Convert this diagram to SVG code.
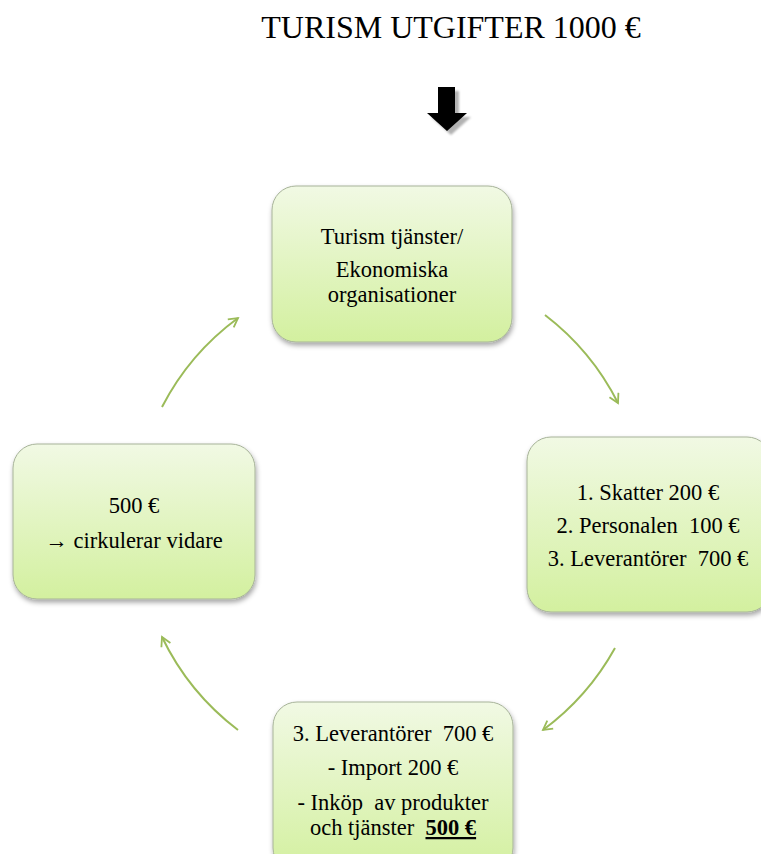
<svg xmlns="http://www.w3.org/2000/svg" width="761" height="854" viewBox="0 0 761 854">
<defs>
<linearGradient id="g" x1="0" y1="0" x2="0" y2="1">
<stop offset="0" stop-color="#f1f9e4"/>
<stop offset="1" stop-color="#d3f09f"/>
</linearGradient>
<filter id="sh" x="-10%" y="-10%" width="125%" height="130%">
<feDropShadow dx="1" dy="3" stdDeviation="2.5" flood-color="#000" flood-opacity="0.35"/>
</filter>
<filter id="ash" x="-30%" y="-30%" width="160%" height="160%">
<feDropShadow dx="4" dy="4" stdDeviation="1.2" flood-color="#000" flood-opacity="0.3"/>
</filter>
<marker id="ah" viewBox="0 0 12 12" refX="10" refY="6" markerWidth="12" markerHeight="12" markerUnits="userSpaceOnUse" orient="auto">
<path d="M1,1 L10,6 L1,11" fill="none" stroke="#9bbb59" stroke-width="1.8"/>
</marker>
<style>
.box{fill:url(#g);stroke:#a7b399;stroke-width:1;filter:url(#sh)}
.t{font-family:"Liberation Serif","Times New Roman",serif;font-size:22.5px;fill:#000;text-anchor:middle;white-space:pre}
.c{fill:none;stroke:#9bbb59;stroke-width:2;marker-end:url(#ah)}
</style>
</defs>
<rect width="761" height="854" fill="#fff"/>
<text x="451" y="38" font-family="Liberation Serif, Times New Roman, serif" font-size="32" text-anchor="middle">TURISM UTGIFTER 1000 €</text>
<g id="down-arrow" filter="url(#ash)">
<polygon points="438,87 455,87 455,113 467,113 447,131 427,113 438,113" fill="#000"/>
</g>
<g id="connectors">
<path class="c" d="M545,315 A256,256 0 0 1 618,403"/>
<path class="c" d="M615,648 A256,256 0 0 1 543,730"/>
<path class="c" d="M238,730 A256,256 0 0 1 162,637"/>
<path class="c" d="M162,407 A256,256 0 0 1 238,318"/>
</g>
<g id="n-top">
<rect class="box" x="272" y="186" width="240" height="156" rx="24"/>
<text class="t" x="392" y="244">Turism tjänster/</text>
<text class="t" x="392" y="277">Ekonomiska</text>
<text class="t" x="392" y="302">organisationer</text>
</g>
<g id="n-right">
<rect class="box" x="527" y="437" width="244" height="175" rx="24"/>
<text class="t" x="648" y="500">1. Skatter 200 €</text>
<text class="t" x="648" y="533">2. Personalen  100 €</text>
<text class="t" x="648" y="566">3. Leverantörer  700 €</text>
</g>
<g id="n-bottom">
<rect class="box" x="273" y="702" width="240" height="170" rx="24"/>
<text class="t" x="393" y="741">3. Leverantörer  700 €</text>
<text class="t" x="393" y="775">- Import 200 €</text>
<text class="t" x="393" y="810">- Inköp  av produkter</text>
<text class="t" x="393" y="835">och tjänster  <tspan font-weight="bold" text-decoration="underline">500 €</tspan></text>
</g>
<g id="n-left">
<rect class="box" x="13" y="444" width="242" height="155" rx="24"/>
<text class="t" x="134" y="513">500 €</text>
<text class="t" x="134" y="548">→ cirkulerar vidare</text>
</g>
</svg>
